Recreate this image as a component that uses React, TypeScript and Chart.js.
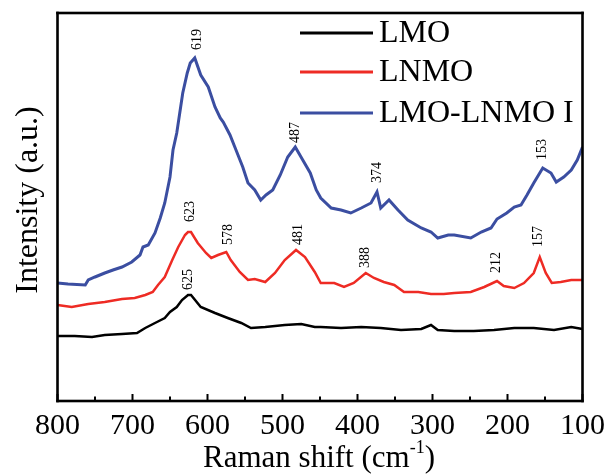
import React, { useEffect, useRef } from "react";
import { Chart, registerables } from "chart.js";
Chart.register(...registerables);

// Raman shift (cm^-1) and intensity (a.u.) for each sample
const lmoX = [800, 777, 754, 737, 714, 694, 683, 670, 657, 650, 641, 634, 626, 622, 609, 590, 573, 555, 542, 523, 497, 475, 457, 449, 422, 395, 369, 342, 315, 302, 293, 271, 245, 218, 191, 165, 138, 115, 100];
const lmoY = [65, 65, 64, 66, 67, 68, 73, 78, 83, 89, 94, 101, 106, 106, 94, 88, 83, 78, 73, 74, 76, 77, 74, 74, 73, 74, 73, 71, 72, 76, 71, 70, 70, 71, 73, 73, 71, 74, 72];

const lnmoX = [800, 781, 759, 737, 714, 697, 683, 673, 666, 657, 647, 639, 630, 626, 622, 613, 602, 595, 586, 575, 569, 557, 546, 537, 523, 510, 497, 482, 470, 457, 449, 431, 418, 405, 389, 378, 365, 351, 338, 319, 302, 285, 271, 249, 231, 214, 205, 191, 178, 165, 157, 149, 141, 129, 115, 100];
const lnmoY = [96, 94, 97, 99, 102, 103, 106, 109, 116, 124, 141, 154, 166, 169, 169, 158, 148, 143, 146, 149, 141, 129, 121, 122, 119, 128, 141, 151, 144, 129, 118, 118, 114, 118, 128, 123, 119, 116, 109, 109, 107, 107, 108, 109, 114, 120, 115, 113, 118, 128, 144, 128, 118, 119, 121, 121];

const mixX = [800, 786, 763, 759, 750, 737, 726, 714, 701, 690, 686, 679, 670, 663, 657, 650, 646, 641, 637, 633, 627, 623, 617, 609, 599, 590, 583, 579, 570, 562, 553, 546, 537, 529, 522, 513, 503, 493, 483, 473, 463, 455, 449, 435, 422, 409, 395, 382, 374, 369, 358, 346, 333, 315, 302, 293, 279, 271, 249, 235, 222, 214, 201, 191, 182, 174, 165, 153, 142, 135, 125, 115, 107, 100];
const mixY = [118, 117, 116, 121, 124, 128, 131, 134, 139, 146, 154, 156, 168, 183, 198, 224, 251, 268, 288, 308, 328, 338, 343, 326, 314, 294, 283, 279, 266, 251, 234, 218, 211, 201, 206, 211, 226, 244, 254, 241, 228, 211, 203, 193, 191, 188, 193, 198, 209, 193, 201, 191, 181, 173, 169, 163, 166, 166, 163, 169, 173, 182, 188, 194, 196, 206, 218, 233, 228, 219, 224, 231, 241, 254];

const seriesNames = ["LMO", "LNMO", "LMO-LNMO I"];
const xTickValues = [800, 700, 600, 500, 400, 300, 200, 100];
const xMinorValues = [750, 650, 550, 450, 350, 250, 150];

// peak annotations: text, x (cm^-1), y (a.u., bottom of rotated label)
const peakText = ["619", "487", "374", "153", "623", "578", "481", "388", "212", "157", "625"];
const peakX = [614, 483, 374, 153, 623, 572, 479, 389, 215, 159, 626];
const peakY = [351, 258, 218, 241, 179, 156, 156, 133, 128, 154, 111];

const FONT = "'Liberation Serif', 'Times New Roman', serif";
const COLORS = ["#000000", "#ee2b24", "#3b4ea1"];

const decor = {
  id: "decor",
  afterDraw(chart: any) {
    const ctx = chart.ctx;
    const xs = chart.scales.x;
    const ys = chart.scales.y;
    const left = xs.getPixelForValue(800);
    const right = xs.getPixelForValue(100);
    const top = ys.getPixelForValue(388);
    const bottom = ys.getPixelForValue(0);
    ctx.save();
    ctx.fillStyle = "#000";
    const t = 2.6;
    // frame
    ctx.fillRect(left - t / 2, top - t / 2, right - left + t, t);
    ctx.fillRect(left - t / 2, bottom - t / 2, right - left + t, t);
    ctx.fillRect(left - t / 2, top - t / 2, t, bottom - top + t);
    ctx.fillRect(right - t / 2, top - t / 2, t, bottom - top + t);
    // inward ticks
    xTickValues.forEach((v) => {
      const px = xs.getPixelForValue(v);
      ctx.fillRect(px - 1, bottom - 7, 2, 7);
    });
    xMinorValues.forEach((v) => {
      const px = xs.getPixelForValue(v);
      ctx.fillRect(px - 1, bottom - 4.5, 2, 4.5);
    });

    // x tick labels
    ctx.font = `30px ${FONT}`;
    ctx.textAlign = "center";
    ctx.textBaseline = "alphabetic";
    xTickValues.forEach((v) => {
      ctx.fillText(String(v), xs.getPixelForValue(v), 434);
    });

    // legend
    const ly = [33, 72, 113];
    ctx.font = `32px ${FONT}`;
    ctx.textBaseline = "middle";
    ctx.textAlign = "left";
    seriesNames.forEach((n, i) => {
      ctx.fillStyle = COLORS[i];
      ctx.fillRect(300, ly[i] - 1.5, 73, 3);
      ctx.fillStyle = "#000";
      ctx.fillText(n, 379, ly[i] + 1);
    });

    // peak labels
    ctx.font = `14px ${FONT}`;
    ctx.fillStyle = "#000";
    ctx.textBaseline = "middle";
    ctx.textAlign = "left";
    peakText.forEach((tx, i) => {
      const px = xs.getPixelForValue(peakX[i]);
      const py = ys.getPixelForValue(peakY[i]);
      ctx.save();
      ctx.translate(px, py);
      ctx.rotate(-Math.PI / 2);
      ctx.fillText(tx, 0, 0);
      ctx.restore();
    });

    // y title
    ctx.font = `32px ${FONT}`;
    ctx.save();
    ctx.translate(29, 200);
    ctx.rotate(-Math.PI / 2);
    ctx.textAlign = "center";
    ctx.textBaseline = "middle";
    ctx.fillText("Intensity (a.u.)", 0, 0);
    ctx.restore();

    // x title with superscript
    const main = "Raman shift (cm";
    const sup = "-1";
    const end = ")";
    ctx.textBaseline = "alphabetic";
    ctx.font = `31px ${FONT}`;
    const w1 = ctx.measureText(main).width;
    const w3 = ctx.measureText(end).width;
    ctx.font = `18px ${FONT}`;
    const w2 = ctx.measureText(sup).width;
    const total = w1 + w2 + w3;
    const x0 = 319 - total / 2;
    const base = 467;
    ctx.font = `31px ${FONT}`;
    ctx.textAlign = "left";
    ctx.fillText(main, x0, base);
    ctx.font = `18px ${FONT}`;
    ctx.fillText(sup, x0 + w1, base - 14);
    ctx.font = `31px ${FONT}`;
    ctx.fillText(end, x0 + w1 + w2, base);
    ctx.restore();
  },
};

export default function App() {
  const ref = useRef<HTMLCanvasElement>(null);
  useEffect(() => {
    const mk = (xs: number[], ys: number[]) => xs.map((x, i) => ({ x, y: ys[i] }));
    const chart = new Chart(ref.current!, {
      type: "line",
      data: {
        datasets: [
          { label: seriesNames[0], data: mk(lmoX, lmoY), borderColor: COLORS[0], borderWidth: 2.5, pointRadius: 0, tension: 0 },
          { label: seriesNames[1], data: mk(lnmoX, lnmoY), borderColor: COLORS[1], borderWidth: 2.5, pointRadius: 0, tension: 0 },
          { label: seriesNames[2], data: mk(mixX, mixY), borderColor: COLORS[2], borderWidth: 3, pointRadius: 0, tension: 0 },
        ],
      },
      options: {
        animation: false,
        responsive: false,
        maintainAspectRatio: false,
        layout: { padding: { top: 13, right: 25.5, left: 0, bottom: 0 } },
        plugins: { legend: { display: false }, tooltip: { enabled: false } },
        scales: {
          x: {
            type: "linear",
            reverse: true,
            min: 100,
            max: 800,
            afterFit: (s: any) => { s.height = 74; s.paddingLeft = 0; s.paddingRight = 0; },
            afterBuildTicks: (s: any) => { s.ticks = xTickValues.map((v) => ({ value: v })); },
            ticks: { display: false },
            grid: { display: false },
            border: { display: false },
          },
          y: {
            min: 0,
            max: 388,
            afterFit: (s: any) => { s.width = 57.5; },
            ticks: { display: false },
            grid: { display: false },
            border: { display: false },
          },
        },
      },
      plugins: [decor],
    });
    return () => chart.destroy();
  }, []);
  return (
    <div style={{ position: "fixed", left: 0, top: 0, width: 608, height: 475, background: "#fff" }}>
      <canvas ref={ref} width={608} height={475} style={{ display: "block" }} />
    </div>
  );
}
